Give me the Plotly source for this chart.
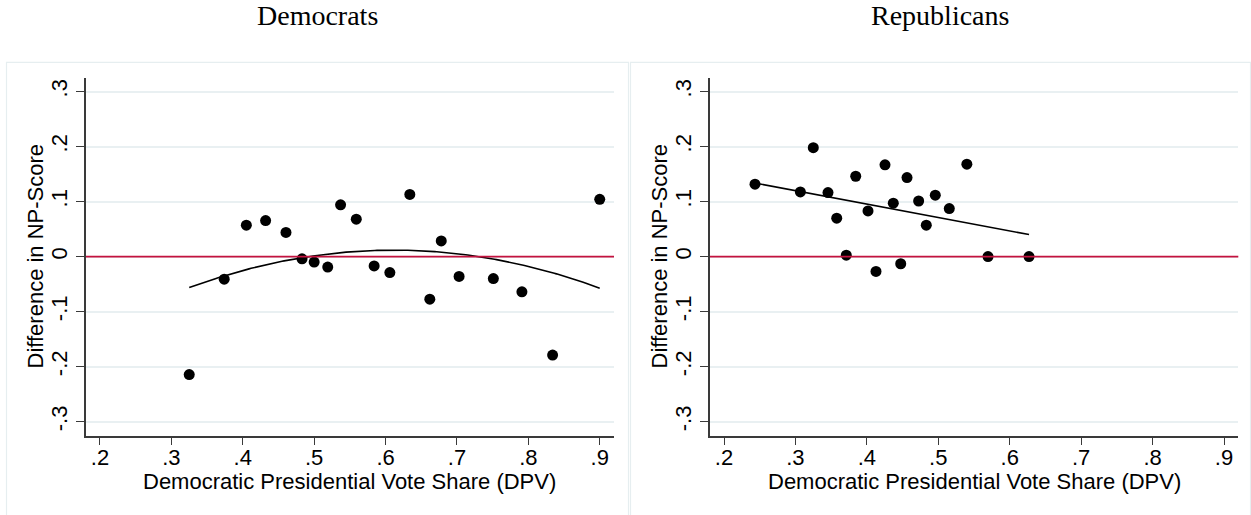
import numpy as np
import plotly.graph_objects as go

# ---- data ----
dem_x = [0.325, 0.374, 0.405, 0.432, 0.4605, 0.483, 0.500, 0.519, 0.537, 0.559,
         0.584, 0.606, 0.634, 0.662, 0.678, 0.703, 0.751, 0.791, 0.834, 0.900]
dem_y = [-0.2145, -0.041, 0.057, 0.0655, 0.044, -0.004, -0.010, -0.019, 0.094, 0.068,
         -0.017, -0.029, 0.113, -0.0775, 0.0285, -0.036, -0.040, -0.064, -0.179, 0.104]

rep_x = [0.2434, 0.3069, 0.325, 0.3456, 0.3578, 0.3712, 0.3844, 0.4016, 0.4128, 0.4254,
         0.437, 0.4474, 0.4562, 0.4725, 0.4832, 0.4958, 0.5154, 0.540, 0.5696, 0.627]
rep_y = [0.1316, 0.1176, 0.198, 0.1164, 0.0698, 0.0025, 0.146, 0.083, -0.027, 0.1667,
         0.097, -0.013, 0.1436, 0.101, 0.057, 0.1116, 0.0873, 0.168, 0.000, 0.000]

dem_fit_x = [0.325, 0.374, 0.483, 0.612, 0.732, 0.900]
dem_fit_y = [-0.0563, -0.035, -0.002, 0.0115, 0.000, -0.0575]

panel_titles = ["Democrats", "Republicans"]
x_title = "Democratic Presidential Vote Share (DPV)"
y_title = "Difference in NP-Score"
x_tickvals = [0.2, 0.3, 0.4, 0.5, 0.6, 0.7, 0.8, 0.9]
x_ticktext = [".2", ".3", ".4", ".5", ".6", ".7", ".8", ".9"]
y_tickvals = [-0.3, -0.2, -0.1, 0.0, 0.1, 0.2, 0.3]
y_ticktext = ["-.3", "-.2", "-.1", "0", ".1", ".2", ".3"]

# ---- fitted lines (quadratic for Democrats, linear for Republicans) ----
qcoef = np.polyfit(dem_fit_x, dem_fit_y, 2)
qx = np.linspace(min(dem_fit_x), max(dem_fit_x), 200)
qy = np.polyval(qcoef, qx)
lcoef = np.polyfit(rep_x, rep_y, 1)
lx = np.array([min(rep_x), max(rep_x)])
ly = np.polyval(lcoef, lx)

W, H = 1251, 515
RED = "#C4123F"
GRID = "#E9F0F2"
AXC = "#3a3a3a"
SANS = "Liberation Sans, Arial, sans-serif"
SERIF = "Liberation Serif, Times New Roman, serif"

fig = go.Figure()
marker = dict(color="black", size=11, line=dict(width=0))
fig.add_trace(go.Scatter(x=dem_x, y=dem_y, mode="markers", marker=marker,
                         xaxis="x", yaxis="y", showlegend=False))
fig.add_trace(go.Scatter(x=qx, y=qy, mode="lines", line=dict(color="black", width=1.6),
                         xaxis="x", yaxis="y", showlegend=False))
fig.add_trace(go.Scatter(x=rep_x, y=rep_y, mode="markers", marker=marker,
                         xaxis="x2", yaxis="y2", showlegend=False))
fig.add_trace(go.Scatter(x=lx, y=ly, mode="lines", line=dict(color="black", width=1.6),
                         xaxis="x2", yaxis="y2", showlegend=False))

xr = [0.1804, 0.92]
yr = [-0.3255, 0.324]
ydom = [(H - 435.7) / H, (H - 78.3) / H]
xdoms = [[86 / W, 614 / W], [710 / W, 1238.3 / W]]

def xax(domain, anchor):
    return dict(domain=domain, anchor=anchor, range=xr, tickvals=x_tickvals,
                ticktext=x_ticktext, showgrid=False, zeroline=False,
                showline=True, linecolor=AXC, linewidth=1.5,
                ticks="outside", ticklen=8, tickwidth=1.3, tickcolor=AXC,
                ticklabelstandoff=-7,
                tickfont=dict(family=SANS, size=22, color="black"))

def yax(anchor):
    return dict(domain=ydom, anchor=anchor, range=yr, tickvals=y_tickvals,
                ticktext=y_ticktext, showgrid=True, gridcolor=GRID, gridwidth=1.5,
                zeroline=False, showline=True, linecolor=AXC, linewidth=1.5,
                ticks="outside", ticklen=8, tickwidth=1.3, tickcolor=AXC,
                tickangle=-90,
                tickfont=dict(family=SANS, size=22, color="black"))

fig.update_layout(
    width=W, height=H,
    margin=dict(l=0, r=0, t=0, b=0),
    paper_bgcolor="white", plot_bgcolor="white",
    xaxis=xax(xdoms[0], "y"),
    yaxis=yax("x"),
    xaxis2=xax(xdoms[1], "y2"),
    yaxis2=yax("x2"),
)

# red reference line at zero in each panel
for xref, yref in (("x domain", "y"), ("x2 domain", "y2")):
    fig.add_shape(type="line", xref=xref, yref=yref, x0=0, x1=1, y0=0, y1=0,
                  line=dict(color=RED, width=1.8), layer="above")

# light panel frames
for x0, x1 in ((6.5, 628.5), (630.5, 1250.5)):
    fig.add_shape(type="rect", xref="paper", yref="paper",
                  x0=x0 / W, x1=x1 / W, y0=-0.01, y1=(H - 62.3) / H,
                  line=dict(color="#E6EEF0", width=1.2), layer="below")

# panel titles and axis titles
for i, (cx, t) in enumerate(((318, panel_titles[0]), (940, panel_titles[1]))):
    fig.add_annotation(xref="paper", yref="paper", x=cx / W, y=(H - 16) / H,
                       text=t, showarrow=False, xanchor="center", yanchor="middle",
                       font=dict(family=SERIF, size=28, color="black"))
    xd = xdoms[i]
    fig.add_annotation(xref="paper", yref="paper", x=(xd[0] + xd[1]) / 2, y=(H - 481) / H,
                       text=x_title, showarrow=False, xanchor="center", yanchor="middle",
                       font=dict(family=SANS, size=22, color="black"))
    fig.add_annotation(xref="paper", yref="paper", x=xd[0] - 51 / W, y=(H - 256.5) / H,
                       text=y_title, showarrow=False, xanchor="center", yanchor="middle",
                       textangle=-90,
                       font=dict(family=SANS, size=22, color="black"))

fig.write_html("out.html", config={"displayModeBar": False},
               post_script="document.body.style.margin='0';document.body.style.overflow='hidden';")
